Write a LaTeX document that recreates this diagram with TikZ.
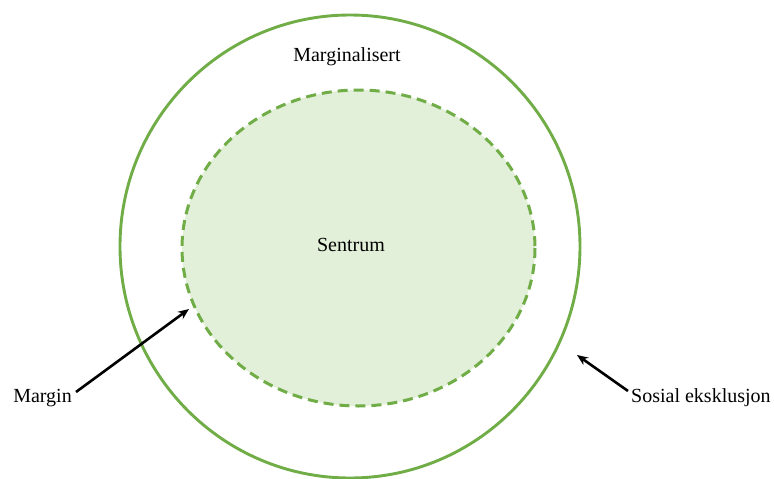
\documentclass[tikz,border=0pt]{standalone}
\usepackage{fontspec}
\setmainfont{Liberation Serif}
\usepackage{xcolor}
\usetikzlibrary{arrows.meta}
\definecolor{gronn}{RGB}{112,173,71}
\definecolor{lysgronn}{RGB}{226,239,217}

\begin{document}
\begin{tikzpicture}[x=1pt,y=-1pt,
  ring/.style={draw=gronn,line width=2.9pt},
  kjerne/.style={draw=gronn,fill=lysgronn,line width=3pt,dash pattern=on 10pt off 6pt},
  tekst/.style={font=\fontsize{20}{24}\selectfont,inner sep=2pt},
  pil/.style={-{Stealth[length=11pt,width=9pt]},line width=2.6pt,black}]
  \useasboundingbox (0,0) rectangle (774,479);
  \draw[ring] (350,246.5) ellipse [x radius=230, y radius=231.5];
  \draw[kjerne] (358.5,248) ellipse [x radius=176.5, y radius=158];
  \node[tekst] (marginalisert) at (347,57) {Marginalisert};
  \node[tekst] (sentrum) at (351,245) {Sentrum};
  \node[tekst,anchor=east] (margin) at (74,398) {Margin};
  \node[tekst,anchor=west] (sosial) at (629,398) {Sosial eksklusjon};
  \coordinate (marginTip) at (189,309);
  \coordinate (sosialTip) at (577,355);
  \draw[pil] ([xshift=2pt,yshift=6pt]margin.east) -- (marginTip);
  \draw[pil] ([xshift=-1pt,yshift=7pt]sosial.west) -- (sosialTip);
\end{tikzpicture}
\end{document}
